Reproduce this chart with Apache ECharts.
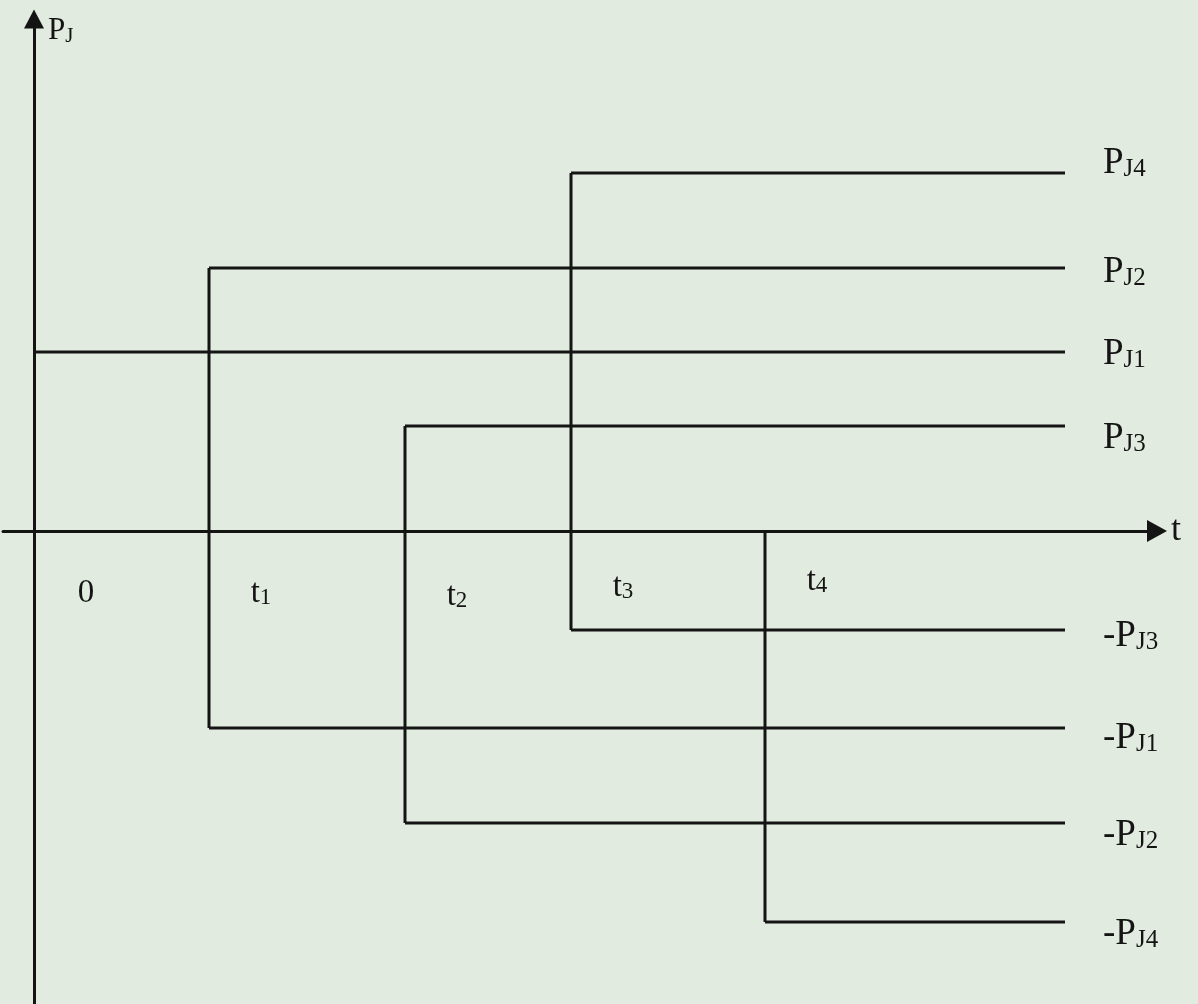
<!DOCTYPE html>
<html>
<head>
<meta charset="utf-8">
<script src="https://cdn.jsdelivr.net/npm/echarts@6/dist/echarts.min.js"></script>
<style>
  html, body { margin: 0; padding: 0; background: #e2ebdf; }
  #main { width: 1198px; height: 1004px; }
</style>
</head>
<body>
<div id="main"></div>
<script>
// time instants on the t axis: 0, t1, t2, t3, t4 and where the traces stop
var tMarks = [0, 175, 371, 537, 731];
var tLabels = ['0', 't1', 't2', 't3', 't4'];
var tEnd = 1031;

// power levels (PJ1..PJ4) and their negative counterparts
var levelNames = ['J1', 'J2', 'J3', 'J4'];
var posLevels = [179, 263, 105, 358];
var negLevels = [-197, -292, -99, -391];
// index into tMarks where each level starts
var posStart = [0, 1, 2, 3];
var negStart = [1, 2, 3, 4];

// label nudges (vertical), positive then negative, then the time labels
var posLabelDy = [2, 4, 12, -10];
var negLabelDy = [10, 12, 6, 12];
var tLabelDy = [0, 0, 3, -6, -12];

(function () {
    var myChart = echarts.init(document.getElementById('main'));

    var serif = '"Liberation Serif", "DejaVu Serif", serif';
    var ink = '#141414';
    var richBig = {
        p: { fontSize: 37, lineHeight: 37, verticalAlign: 'top', fontFamily: serif, color: ink },
        s: { fontSize: 25, lineHeight: 25, verticalAlign: 'bottom', fontFamily: serif, color: ink }
    };
    var richSmall = {
        p: { fontSize: 33, lineHeight: 33, verticalAlign: 'top', fontFamily: serif, color: ink },
        s: { fontSize: 23, lineHeight: 23, verticalAlign: 'bottom', fontFamily: serif, color: ink }
    };

    function subLabel(main, sub) {
        return '{p|' + main + '}' + (sub ? '{s|' + sub + '}' : '');
    }

    var series = [];

    function hLine(y, x0, text, dy) {
        series.push({
            type: 'line',
            data: [[x0, y], [tEnd, y]],
            showSymbol: false,
            silent: true,
            lineStyle: { color: ink, width: 3 },
            endLabel: {
                show: true,
                distance: 38,
                offset: [0, dy],
                formatter: text,
                lineHeight: 41,
                color: ink,
                rich: richBig
            }
        });
    }

    for (var i = 0; i < levelNames.length; i++) {
        hLine(posLevels[i], tMarks[posStart[i]], subLabel('P', levelNames[i]), posLabelDy[i]);
        hLine(negLevels[i], tMarks[negStart[i]], subLabel('-P', levelNames[i]), negLabelDy[i]);
    }

    // vertical switching edges at t1..t4
    for (var k = 1; k < tMarks.length; k++) {
        var edgeTop = k < posLevels.length ? posLevels[k] : 0;
        series.push({
            type: 'line',
            data: [[tMarks[k], edgeTop], [tMarks[k], negLevels[k - 1]]],
            showSymbol: false,
            silent: true,
            lineStyle: { color: ink, width: 3 }
        });
    }

    // time labels under the axis
    series.push({
        type: 'scatter',
        symbolSize: 0,
        silent: true,
        itemStyle: { opacity: 1, color: ink },
        data: tMarks.map(function (t, idx) {
            return {
                value: [t, 0],
                name: tLabels[idx],
                label: { offset: [52, 62 + tLabelDy[idx]] }
            };
        }),
        label: {
            show: true,
            position: 'inside',
            color: ink,
            opacity: 1,
            textBorderWidth: 0,
            lineHeight: 37,
            rich: richSmall,
            formatter: function (p) {
                var s = p.name;
                return s.length > 1 ? subLabel(s.charAt(0), s.slice(1)) : subLabel(s);
            }
        }
    });

    var option = {
        backgroundColor: '#e2ebdf',
        animation: false,
        grid: { left: 3, right: 41, top: 19, bottom: 0, containLabel: false },
        xAxis: {
            type: 'value',
            min: -31,
            max: 1123,
            name: 't',
            nameLocation: 'end',
            nameGap: 14,
            nameTextStyle: { fontFamily: serif, fontSize: 36, color: ink, verticalAlign: 'middle', padding: [8, 0, 0, 0] },
            axisLine: {
                onZero: true,
                symbol: ['none', 'triangle'],
                symbolSize: [22, 20],
                lineStyle: { color: ink, width: 3 }
            },
            axisTick: { show: false },
            axisLabel: { show: false },
            splitLine: { show: false }
        },
        yAxis: {
            type: 'value',
            min: -473,
            max: 512,
            name: subLabel('P', 'J'),
            nameLocation: 'end',
            nameGap: -12,
            nameTextStyle: {
                align: 'left',
                verticalAlign: 'middle',
                padding: [0, 0, 0, 14],
                lineHeight: 36,
                rich: {
                    p: { fontSize: 31, lineHeight: 31, verticalAlign: 'top', fontFamily: serif, color: ink },
                    s: { fontSize: 21, lineHeight: 21, verticalAlign: 'bottom', fontFamily: serif, color: ink }
                }
            },
            axisLine: {
                onZero: true,
                symbol: ['none', 'triangle'],
                symbolSize: [20, 19],
                lineStyle: { color: ink, width: 3 }
            },
            axisTick: { show: false },
            axisLabel: { show: false },
            splitLine: { show: false }
        },
        series: series
    };

    myChart.setOption(option);
})();
</script>
</body>
</html>
